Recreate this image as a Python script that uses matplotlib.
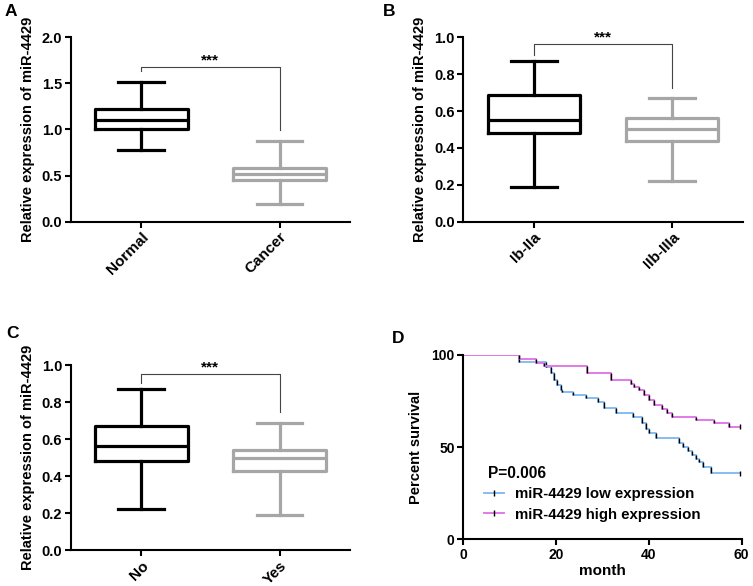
import matplotlib
matplotlib.use("Agg")
import matplotlib.pyplot as plt
from matplotlib.lines import Line2D

plt.rcParams["font.family"] = ["Liberation Sans", "DejaVu Sans"]
plt.rcParams["font.weight"] = "bold"

# box stats: whisker low, q1, median, q3, whisker high
a_labels = ["Normal", "Cancer"]
a_stats = [[0.78, 1.00, 1.10, 1.22, 1.52], [0.19, 0.45, 0.52, 0.58, 0.87]]
b_labels = ["Ib-IIa", "IIb-IIIa"]
b_stats = [[0.19, 0.48, 0.55, 0.685, 0.87], [0.22, 0.435, 0.50, 0.56, 0.67]]
c_labels = ["No", "Yes"]
c_stats = [[0.22, 0.48, 0.56, 0.67, 0.87], [0.19, 0.425, 0.495, 0.54, 0.685]]

# Kaplan-Meier steps (month, percent survival)
low_t = [0, 12.1, 17.8, 18.9, 19.6, 20.3, 21.0, 21.4, 23.6, 26.4, 29.0, 30.4, 32.9,
         36.5, 38.6, 39.3, 40.0, 41.5, 46.6, 47.3, 48.4, 49.3, 50.1, 50.9, 51.6, 53.4]
low_s = [100, 96.4, 93.7, 90.4, 86.5, 83.7, 81.0, 80.0, 78.3, 76.5, 74.7, 71.0, 68.7,
         66.5, 63.0, 60.0, 57.5, 54.8, 52.5, 50.3, 47.8, 45.7, 43.5, 42.0, 39.4, 35.8]
high_t = [0, 12.1, 15.7, 17.5, 26.6, 31.8, 36.1, 36.9, 37.9, 38.9, 40.0, 41.1, 42.9,
          44.0, 45.1, 50.1, 54.1, 57.3]
high_s = [100, 97.8, 95.5, 94.0, 90.4, 86.4, 84.5, 82.8, 81.0, 78.3, 75.6, 72.9, 70.5,
          68.7, 66.5, 64.7, 62.9, 61.1]
end_month = 59.6

BLACK = "black"
GREY = "#a6a6a6"
LOW_C = "#86bdf2"
HIGH_C = "#e27ae8"


def box_panel(ax, labels, stats, ymax, yticks, bracket):
    data = []
    for lab, s in zip(labels, stats):
        data.append({"label": lab, "whislo": s[0], "q1": s[1], "med": s[2],
                     "q3": s[3], "whishi": s[4]})
    colors = [BLACK, GREY]
    for i, d in enumerate(data):
        c = colors[i]
        ax.bxp([d], positions=[i], widths=0.67, showfliers=False,
               boxprops=dict(color=c, lw=2.3),
               medianprops=dict(color=c, lw=2.3),
               whiskerprops=dict(color=c, lw=2.3),
               capprops=dict(color=c, lw=2.3), capwidths=0.33)
    ax.set_xlim(-0.51, 1.51)
    ax.set_ylim(0, ymax)
    ax.set_yticks(yticks)
    ax.set_yticklabels(["%.1f" % v for v in yticks], fontsize=10.5, fontweight="bold")
    ax.set_xticks([0, 1])
    ax.set_xticklabels(labels, rotation=45, ha="right", rotation_mode="anchor",
                       fontsize=11, fontweight="bold")
    ax.set_ylabel("Relative expression of miR-4429", fontsize=10.5, fontweight="bold",
                  labelpad=5)
    for sp in ["top", "right"]:
        ax.spines[sp].set_visible(False)
    for sp in ["left", "bottom"]:
        ax.spines[sp].set_linewidth(1.5)
    ax.tick_params(width=1.5, length=4, pad=2)
    top, left_end, right_end = bracket
    ax.plot([0, 0, 1, 1], [left_end, top, top, right_end], color="#444444", lw=0.8)
    ax.text(0.5, top, "***", ha="center", va="bottom", fontsize=11)


fig = plt.figure(figsize=(7.53, 5.86), dpi=100)
ax_a = fig.add_axes([0.0939, 0.6217, 0.371, 0.3147])
ax_b = fig.add_axes([0.6153, 0.6217, 0.371, 0.3147])
ax_c = fig.add_axes([0.0939, 0.0614, 0.371, 0.3157])
ax_d = fig.add_axes([0.6149, 0.0797, 0.370, 0.3145])

box_panel(ax_a, a_labels, a_stats, 2.0, [0.0, 0.5, 1.0, 1.5, 2.0], (1.675, 1.63, 0.995))
box_panel(ax_b, b_labels, b_stats, 1.0, [0.0, 0.2, 0.4, 0.6, 0.8, 1.0], (0.962, 0.904, 0.723))
box_panel(ax_c, c_labels, c_stats, 1.0, [0.0, 0.2, 0.4, 0.6, 0.8, 1.0], (0.951, 0.901, 0.748))

# survival panel
for t, s, c in [(low_t, low_s, LOW_C), (high_t, high_s, HIGH_C)]:
    ax_d.step(t + [end_month], s + [s[-1]], where="post", color=c, lw=1.4)
    ax_d.vlines(t[1:], s[1:], s[:-1], colors=BLACK, lw=1.0)
    ax_d.vlines([end_month], s[-1] - 1.5, s[-1] + 1.5, colors=BLACK, lw=1.0)
ax_d.set_xlim(0, 60)
ax_d.set_ylim(0, 100)
ax_d.set_xticks([0, 20, 40, 60])
ax_d.set_yticks([0, 50, 100])
ax_d.tick_params(labelsize=10, width=1.5, length=4, pad=2)
for lab in ax_d.get_xticklabels() + ax_d.get_yticklabels():
    lab.set_fontweight("bold")
ax_d.set_xlabel("month", fontsize=11, fontweight="bold", labelpad=2)
ax_d.set_ylabel("Percent survival", fontsize=10.5, fontweight="bold", labelpad=6)
for sp in ["top", "right"]:
    ax_d.spines[sp].set_visible(False)
for sp in ["left", "bottom"]:
    ax_d.spines[sp].set_linewidth(1.5)
ax_d.text(0.09, 0.355, "P=0.006", transform=ax_d.transAxes, fontsize=11.2,
          fontweight="bold", va="center")
handles = [Line2D([], [], color=LOW_C, lw=1.4, marker="|", markersize=4,
                  markeredgecolor=BLACK),
           Line2D([], [], color=HIGH_C, lw=1.4, marker="|", markersize=4,
                  markeredgecolor=BLACK)]
ax_d.legend(handles, ["miR-4429 low expression", "miR-4429 high expression"],
            loc="upper left", bbox_to_anchor=(0.075, 0.285), frameon=False,
            prop={"size": 10.8, "weight": "bold"}, handlelength=1.35,
            labelspacing=0.45, borderaxespad=0, borderpad=0, handletextpad=0.75)

for txt, x, y in [("A", 0.006, 0.994), ("B", 0.508, 0.994), ("C", 0.008, 0.444),
                  ("D", 0.521, 0.435)]:
    fig.text(x, y, txt, fontsize=12.5, fontweight="bold", va="top")

fig.savefig("out.png", dpi=100)
